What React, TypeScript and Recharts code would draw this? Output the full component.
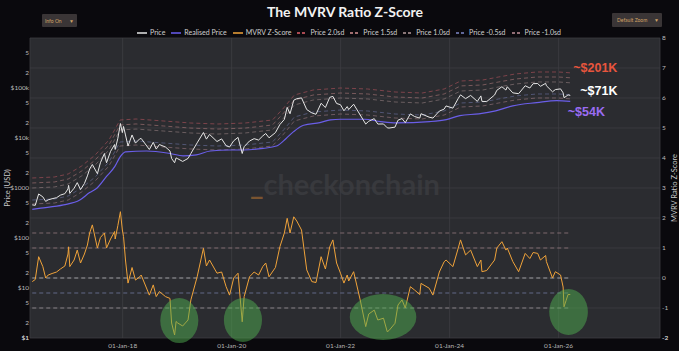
import React from 'react';
import {
  ComposedChart,
  Line,
  XAxis,
  YAxis,
  CartesianGrid,
  ReferenceLine,
  ReferenceArea,
  ReferenceDot,
} from 'recharts';

// ---------- DATA ----------
const seriesDates = [
  '2016-05-05','2016-05-25','2016-06-17','2016-07-15','2016-08-03','2016-08-20','2016-09-15','2016-10-15','2016-11-10','2016-12-10','2016-12-31',
  '2017-01-04','2017-01-12','2017-02-10','2017-03-03','2017-03-25','2017-04-20','2017-05-10','2017-05-25','2017-06-12','2017-07-16','2017-08-05','2017-09-01','2017-09-15','2017-10-12','2017-11-08','2017-11-12','2017-11-30','2017-12-17','2017-12-30',
  '2018-01-07','2018-01-20','2018-02-06','2018-03-05','2018-03-28','2018-04-25','2018-05-05','2018-06-29','2018-07-25','2018-08-14','2018-09-04','2018-10-15','2018-11-14','2018-11-25','2018-12-15','2018-12-25',
  '2019-01-05','2019-02-07','2019-03-15','2019-04-03','2019-05-15','2019-06-26','2019-07-16','2019-08-06','2019-09-25','2019-10-26','2019-11-25','2019-12-18',
  '2020-01-15','2020-02-13','2020-03-12','2020-03-25','2020-04-30','2020-05-31','2020-06-30','2020-07-28','2020-08-17','2020-09-08','2020-10-21','2020-11-20','2020-12-20',
  '2021-01-08','2021-01-27','2021-02-21','2021-03-13','2021-04-14','2021-05-19','2021-06-22','2021-07-20','2021-08-23','2021-09-21','2021-10-20','2021-11-10','2021-12-05','2021-12-31',
  '2022-01-23','2022-02-14','2022-02-24','2022-03-29','2022-05-12','2022-06-18','2022-07-08','2022-08-14','2022-09-07','2022-10-15','2022-11-09','2022-11-21','2022-12-31',
  '2023-01-20','2023-02-16','2023-03-10','2023-04-13','2023-05-11','2023-06-15','2023-06-23','2023-08-17','2023-09-11','2023-10-24','2023-11-25','2023-12-08',
  '2024-01-23','2024-02-28','2024-03-14','2024-04-17','2024-05-21','2024-07-05','2024-07-29','2024-08-05','2024-09-06','2024-10-29','2024-11-13','2024-12-17',
  '2025-01-13','2025-01-22','2025-02-28','2025-04-08','2025-05-22','2025-06-22','2025-07-14','2025-08-14','2025-09-01','2025-10-06','2025-10-11','2025-11-21','2025-12-10',
  '2026-01-14','2026-01-31','2026-02-06','2026-02-20','2026-03-05','2026-03-20',
];

const priceValues = [
  460,450,760,665,540,580,610,640,720,770,960,
  1130,780,990,1280,930,1230,1750,2400,2950,1930,3200,4900,3200,5400,7400,5900,9900,19500,12800,
  17000,11500,6900,11500,7900,9600,9800,5900,8200,6000,7400,6600,5500,3900,3200,4000,
  3850,3400,3900,4900,8000,12900,9500,11800,8500,9600,7000,6600,
  8800,10300,4900,6700,8700,9700,9100,11000,12300,10100,12800,18600,23500,
  41000,30500,57000,61000,63500,37000,31800,29800,49500,40700,65000,68000,49000,46300,
  35000,42500,37000,47400,28900,19000,21600,24400,19000,19100,16000,15800,16500,
  22700,24500,20200,30400,26900,25000,30600,26100,25000,34500,37800,43800,
  39500,62000,73000,61300,71000,54000,69500,54000,53500,72500,90000,106000,
  91000,106000,80000,77000,111000,100000,122000,123000,108000,124000,111000,84000,93000,
  96000,80000,64000,68000,73000,71000,
];

const zValues = [
  -0.12,-0.05,0.71,0.38,0.0,0.1,0.15,0.2,0.3,0.4,0.8,
  1.04,0.38,0.6,0.93,0.5,0.8,1.1,1.5,1.77,1.0,1.35,1.5,1.0,1.3,1.55,1.3,1.75,2.21,1.6,
  1.38,0.6,-0.17,0.35,-0.07,0.04,0.1,-0.57,-0.23,-0.62,-0.45,-0.62,-0.68,-1.5,-1.9,-1.45,
  -1.5,-1.6,-1.4,-0.73,0.04,0.99,0.4,0.6,0.16,0.2,-0.29,-0.57,
  0.0,0.16,-1.46,-0.62,0.04,0.2,0.1,0.38,0.5,0.04,0.35,1.04,1.5,
  1.99,1.5,2.04,1.9,1.6,0.27,-0.12,-0.15,0.71,0.3,1.04,1.27,0.5,0.16,
  -0.17,0.1,-0.1,0.21,-0.73,-1.62,-1.2,-1.07,-1.4,-1.34,-1.79,-1.75,-1.51,
  -0.9,-0.73,-1.0,-0.29,-0.4,-0.55,-0.18,-0.34,-0.57,0.2,0.54,0.6,
  0.38,1.0,1.27,0.77,0.93,0.38,0.6,0.21,0.25,0.6,1.0,1.21,
  0.93,1.0,0.55,0.21,0.82,0.65,0.85,0.82,0.6,0.75,0.55,0.0,0.21,
  0.1,-0.3,-0.96,-0.75,-0.55,-0.55,
];

const realisedDates = [
  '2016-05-05','2016-07-01','2016-12-01','2017-03-20','2017-05-25','2017-07-12','2017-09-15','2017-11-10','2017-12-15',
  '2018-01-20','2018-06-10','2018-11-15','2019-02-10','2019-05-10','2019-08-10','2019-12-20','2020-03-20','2020-07-31','2020-10-28',
  '2021-01-01','2021-02-20','2021-04-28','2021-08-15','2021-10-25','2021-12-31','2022-06-10','2022-09-25','2023-01-10','2023-08-20',
  '2023-12-10','2024-03-10','2024-07-15','2024-11-05','2025-02-28','2025-08-08','2025-12-20','2026-03-20',
];
const realisedValues = [
  375,395,460,575,810,990,1700,2700,4200,
  5300,5500,4900,4400,4600,5500,5750,5750,6200,6900,
  9800,13400,18000,20300,23000,23700,23700,21300,20000,21300,
  23400,28000,30500,35000,44000,51000,56000,54000,
];

const bandDates = [
  '2016-05-05','2016-10-01','2017-01-01','2017-04-01','2017-07-01','2017-10-01','2017-12-15','2018-04-01','2018-10-01',
  '2019-04-01','2019-10-01','2020-04-01','2020-10-01','2020-12-15','2021-02-25','2021-07-01','2022-01-01','2022-07-01',
  '2023-01-01','2023-07-01','2023-11-25','2024-03-15','2024-08-10','2024-11-25','2025-03-15','2025-08-08','2026-01-01','2026-03-20',
];
const band20 = [1585,1660,1905,2750,4570,9120,22900,24000,21900,19950,19050,19950,22900,39800,72400,91200,100000,95500,83200,79400,95500,138000,144500,166000,190500,209000,209000,201000];
const band15 = [1260,1320,1510,2180,3630,7240,18200,19100,17400,15800,15100,15800,18200,31600,57500,72400,79400,75900,66100,63100,75900,110000,115000,132000,151000,166000,166000,160000];
const band10 = [1000,1050,1200,1740,2880,5750,14500,15100,13800,12600,12000,12600,14500,25100,45700,57500,63100,60300,52500,50100,60300,87100,91200,105000,120000,132000,132000,127000];
const bandM05 = [575,603,692,1000,1660,3310,8320,8710,7940,7240,6920,7240,8320,14500,26300,33100,36300,34700,30200,28800,34700,50100,52500,60300,69200,75900,75900,73000];
const bandM10 = [479,501,575,831,1380,2750,6920,7240,6610,6030,5750,6030,6920,12000,21900,27500,30200,28800,25100,24000,28800,41700,43700,50100,57500,63100,63100,60700];

const zLevels = [1.5, 1.0, 0, -0.5, -1.0];
const zLevelColors = ['#a8878c', '#a8878c', '#d4d4d8', '#7d86b4', '#b4acb0'];

const xDomain = [2016.3, 2027.86];
const xTickDates = ['2018-01-01', '2020-01-01', '2022-01-01', '2024-01-01', '2026-01-01'];
const leftTicks = [1, 2, 5, 10, 20, 50, 100, 200, 500, 1000, 2000, 5000, 10000, 20000, 50000, 100000, 200000, 500000];
const rightTicks = [-2, -1, 0, 1, 2, 3, 4, 5, 6, 7, 8];

const bottomZones = [
  { from: '2018-09-10', to: '2019-05-23', top: -0.67, bottom: -2.17 },
  { from: '2019-11-10', to: '2020-07-23', top: -0.67, bottom: -2.13 },
  { from: '2022-03-03', to: '2023-05-23', top: -0.53, bottom: -2.07 },
  { from: '2025-10-30', to: '2026-07-16', top: -0.37, bottom: -1.9 },
];

const annotations = [
  { label: '~$201K', value: 201000, color: '#e8553d', dx: 3, dy: -4.5 },
  { label: '~$71K', value: 71000, color: '#ffffff', dx: 10, dy: -3.5 },
  { label: '~$54K', value: 54000, color: '#9b6cf3', dx: -2.5, dy: 11.5 },
];

const legendItems = [
  { name: 'Price', color: '#e6e6e6', dash: false },
  { name: 'Realised Price', color: '#6a5cf0', dash: false },
  { name: 'MVRV Z-Score', color: '#f0a33a', dash: false },
  { name: 'Price 2.0sd', color: '#e0606a', dash: true },
  { name: 'Price 1.5sd', color: '#d49090', dash: true },
  { name: 'Price 1.0sd', color: '#b59a9a', dash: true },
  { name: 'Price -0.5sd', color: '#7f88c8', dash: true },
  { name: 'Price -1.0sd', color: '#c09098', dash: true },
];

// ---------- HELPERS ----------
const toYear = (s: string) => {
  const d = new Date(s + 'T00:00:00Z');
  const y = d.getUTCFullYear();
  const a = Date.UTC(y, 0, 1);
  const b = Date.UTC(y + 1, 0, 1);
  return y + (d.getTime() - a) / (b - a);
};
const mk = (dates: string[], vals: number[]) => dates.map((d, i) => ({ t: toYear(d), v: vals[i] }));

const priceData = mk(seriesDates, priceValues);
const zData = mk(seriesDates, zValues);
const realisedData = mk(realisedDates, realisedValues);
const bands = [
  { data: mk(bandDates, band20), color: legendItems[3].color },
  { data: mk(bandDates, band15), color: legendItems[4].color },
  { data: mk(bandDates, band10), color: legendItems[5].color },
  { data: mk(bandDates, bandM05), color: legendItems[6].color },
  { data: mk(bandDates, bandM10), color: legendItems[7].color },
];
const tStart = toYear(seriesDates[0]);
const tEnd = toYear(seriesDates[seriesDates.length - 1]);

const fmtLeft = (v: number) => {
  const lg = Math.log10(v);
  if (Math.abs(lg - Math.round(lg)) < 1e-6) {
    if (v >= 10000) return '$' + Math.round(v / 1000) + 'k';
    return '$' + Math.round(v);
  }
  return String(Math.round(v / Math.pow(10, Math.floor(lg + 1e-9))));
};
const fmtX = (v: number) => {
  const y = Math.round(v);
  return '01-Jan-' + String(y).slice(2);
};

const FONT = 'Lato, "Open Sans", sans-serif';

const LeftTick = (p: any) => (
  <text x={p.x} y={p.y} dy="0.35em" textAnchor="end" fill="#bdbdbd" fontSize={6.5} fontFamily={FONT}>
    {fmtLeft(p.payload.value)}
  </text>
);
const RightTick = (p: any) => (
  <text x={p.x} y={p.y} dy="0.35em" textAnchor="start" fill="#bdbdbd" fontSize={6.5} fontFamily={FONT}>
    {p.payload.value}
  </text>
);

export default function App() {
  return (
    <div
      style={{
        position: 'absolute',
        left: 0,
        top: 0,
        width: 679,
        height: 351,
        background: '#0a090d',
        fontFamily: FONT,
        overflow: 'hidden',
      }}
    >
      {/* plot background */}
      <div style={{ position: 'absolute', left: 30, top: 38, width: 630, height: 300, background: '#2b2c30' }} />
      {/* watermark */}
      <div
        style={{
          position: 'absolute',
          left: 250,
          top: 167,
          fontSize: 29,
          fontWeight: 700,
          color: '#38393d',
          whiteSpace: 'nowrap',
          lineHeight: '34px',
        }}
      >
        <span style={{ color: '#7a5430' }}>_</span>checkonchain
      </div>

      <div style={{ position: 'absolute', left: 0, top: 0 }}>
        <ComposedChart width={679} height={351} margin={{ top: 38, right: 0, bottom: 0, left: 0 }}>
          <CartesianGrid yAxisId="right" stroke="#3d3e43" strokeWidth={0.8} />
          <XAxis
            dataKey="t"
            type="number"
            domain={xDomain}
            ticks={xTickDates.map(toYear)}
            tickFormatter={fmtX}
            allowDataOverflow
            height={13}
            axisLine={false}
            tickLine={false}
            tickSize={0}
            tickMargin={5}
            tick={{ fill: '#b5b5b5', fontSize: 6.5, fontFamily: FONT }}
          />
          <YAxis
            yAxisId="left"
            scale="log"
            domain={[1, 1000000]}
            ticks={leftTicks}
            allowDataOverflow
            width={30}
            axisLine={false}
            tickLine={false}
            tickSize={0}
            tickMargin={1}
            interval={0}
            tick={<LeftTick />}
            label={({ viewBox }: any) => (
              <text
                x={viewBox.x + 8}
                y={viewBox.y + viewBox.height / 2}
                transform={`rotate(-90 ${viewBox.x + 8} ${viewBox.y + viewBox.height / 2})`}
                textAnchor="middle"
                dominantBaseline="middle"
                fill="#c8c8c8"
                fontSize={7.5}
                fontFamily={FONT}
              >
                Price (USD)
              </text>
            )}
          />
          <YAxis
            yAxisId="right"
            orientation="right"
            domain={[-2, 8]}
            ticks={rightTicks}
            allowDataOverflow
            width={19}
            axisLine={false}
            tickLine={false}
            tickSize={0}
            tickMargin={2}
            interval={0}
            tick={<RightTick />}
            label={({ viewBox }: any) => (
              <text
                x={viewBox.x + 15.5}
                y={viewBox.y + viewBox.height / 2}
                transform={`rotate(-90 ${viewBox.x + 15.5} ${viewBox.y + viewBox.height / 2})`}
                textAnchor="middle"
                dominantBaseline="middle"
                fill="#c8c8c8"
                fontSize={7.5}
                fontFamily={FONT}
              >
                MVRV Ratio Z-Score
              </text>
            )}
          />

          {zLevels.map((lv, i) => (
            <ReferenceLine
              key={'zl' + i}
              yAxisId="right"
              segment={[
                { x: tStart, y: lv },
                { x: tEnd, y: lv },
              ]}
              stroke={zLevelColors[i]}
              strokeOpacity={0.75}
              strokeWidth={0.9}
              strokeDasharray="4 3"
            />
          ))}

          {bands.map((b, i) => (
            <Line
              key={'band' + i}
              yAxisId="left"
              data={b.data}
              dataKey="v"
              type="linear"
              stroke={b.color}
              strokeOpacity={0.5}
              strokeWidth={0.9}
              strokeDasharray="4 3"
              dot={false}
              activeDot={false}
              isAnimationActive={false}
            />
          ))}

          <Line
            yAxisId="left"
            data={realisedData}
            dataKey="v"
            type="monotone"
            stroke="#6a5ee8"
            strokeWidth={1.2}
            dot={false}
            activeDot={false}
            isAnimationActive={false}
          />
          <Line
            yAxisId="left"
            data={priceData}
            dataKey="v"
            type="linear"
            stroke="#e6e6e6"
            strokeWidth={1}
            dot={false}
            activeDot={false}
            isAnimationActive={false}
          />
          <Line
            yAxisId="right"
            data={zData}
            dataKey="v"
            type="linear"
            stroke="#f0a33a"
            strokeWidth={1}
            dot={false}
            activeDot={false}
            isAnimationActive={false}
          />

          {bottomZones.map((z, i) => (
            <ReferenceArea
              key={'bz' + i}
              yAxisId="right"
              x1={toYear(z.from)}
              x2={toYear(z.to)}
              y1={z.bottom}
              y2={z.top}
              ifOverflow="visible"
              zIndex={1000}
              shape={(p: any) => (
                <ellipse
                  cx={p.x + p.width / 2}
                  cy={p.y + p.height / 2}
                  rx={Math.abs(p.width) / 2}
                  ry={Math.abs(p.height) / 2}
                  fill="#4fae4f"
                  fillOpacity={0.5}
                />
              )}
            />
          ))}

          {/* bottom-edge axis labels (edge ticks) */}
          <ReferenceDot
            yAxisId="left"
            x={xDomain[0]}
            y={leftTicks[0]}
            r={0}
            ifOverflow="visible"
            shape={(p: any) => (
              <text x={p.cx - 1} y={p.cy} dy="0.35em" textAnchor="end" fill="#bdbdbd" fontSize={6.5} fontFamily={FONT}>
                {fmtLeft(leftTicks[0])}
              </text>
            )}
          />
          <ReferenceDot
            yAxisId="right"
            x={xDomain[1]}
            y={rightTicks[0]}
            r={0}
            ifOverflow="visible"
            shape={(p: any) => (
              <text x={p.cx + 2} y={p.cy} dy="0.35em" textAnchor="start" fill="#bdbdbd" fontSize={6.5} fontFamily={FONT}>
                {rightTicks[0]}
              </text>
            )}
          />

          {annotations.map((a, i) => (
            <ReferenceDot
              key={'an' + i}
              yAxisId="left"
              x={tEnd}
              y={a.value}
              r={0}
              ifOverflow="visible"
              zIndex={1100}
              shape={(p: any) => (
                <text
                  x={p.cx + a.dx}
                  y={p.cy + a.dy}
                  fill={a.color}
                  fontSize={12.5}
                  fontWeight={700}
                  fontFamily={'"Liberation Sans", Arial, sans-serif'}
                  dominantBaseline="middle"
                >
                  {a.label}
                </text>
              )}
            />
          ))}
        </ComposedChart>
      </div>

      {/* title */}
      <div
        style={{
          position: 'absolute',
          left: 345,
          top: 3,
          transform: 'translateX(-50%)',
          color: '#f2f2f2',
          fontSize: 14,
          fontWeight: 700,
          whiteSpace: 'nowrap',
          lineHeight: '18px',
        }}
      >
        The MVRV Ratio Z-Score
      </div>

      {/* legend */}
      <div
        style={{
          position: 'absolute',
          left: 137,
          top: 28,
          display: 'flex',
          alignItems: 'center',
          gap: 6,
          fontSize: 7,
          color: '#cfcfcf',
          whiteSpace: 'nowrap',
          lineHeight: '9px',
        }}
      >
        {legendItems.map((it) => (
          <div key={it.name} style={{ display: 'flex', alignItems: 'center', gap: 3 }}>
            <svg width={10} height={4}>
              <line
                x1={0}
                y1={2}
                x2={10}
                y2={2}
                stroke={it.color}
                strokeWidth={1.5}
                strokeDasharray={it.dash ? '3 2' : undefined}
              />
            </svg>
            <span>{it.name}</span>
          </div>
        ))}
      </div>

      {/* controls */}
      <div
        style={{
          position: 'absolute',
          left: 42,
          top: 14,
          width: 35,
          height: 13,
          background: '#3a3536',
          borderRadius: 1,
          color: '#d3a466',
          fontSize: 5,
          display: 'flex',
          alignItems: 'center',
          justifyContent: 'space-between',
          padding: '0 3px',
          boxSizing: 'border-box',
        }}
      >
        <span>Info On</span>
        <span>▼</span>
      </div>
      <div
        style={{
          position: 'absolute',
          left: 612,
          top: 13,
          width: 50,
          height: 14,
          background: '#3a3536',
          borderRadius: 1,
          color: '#d3a466',
          fontSize: 5,
          display: 'flex',
          alignItems: 'center',
          justifyContent: 'space-between',
          padding: '0 3px 0 5px',
          boxSizing: 'border-box',
        }}
      >
        <span>Default Zoom</span>
        <span>▼</span>
      </div>
    </div>
  );
}
